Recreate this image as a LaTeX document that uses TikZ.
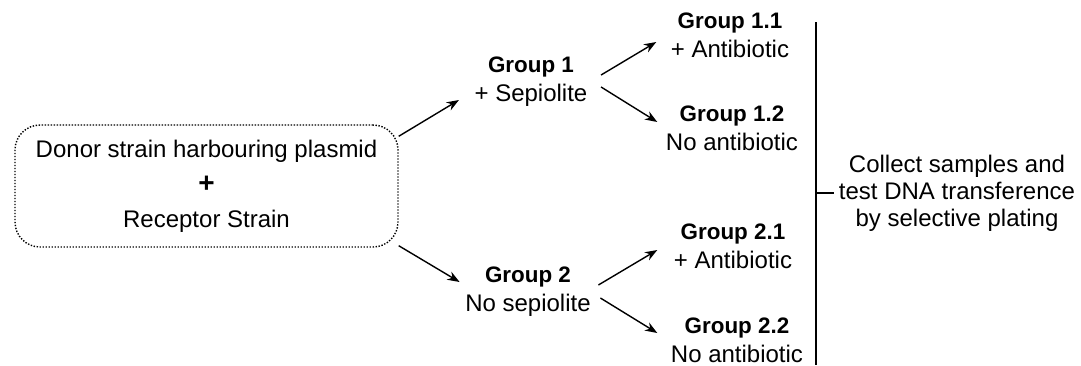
\documentclass[tikz,border=0pt]{standalone}
\usepackage{fontspec}
\setmainfont{Liberation Sans}
\usetikzlibrary{arrows.meta}

\tikzset{
grp/.style={align=center, inner sep=0pt, font=\fontsize{12}{14.5}\selectfont},
mixbox/.style={draw, rectangle, rounded corners=12.5pt, dash pattern=on .7pt off .8pt,
  minimum width=191.5pt, minimum height=61pt, align=center, font=\fontsize{12}{17.5}\selectfont}
}
\newcommand{\gname}[1]{{\fontsize{11.2}{14.5}\selectfont\bfseries #1}}

\begin{document}
\begin{tikzpicture}[>=Stealth,line width=.7pt,x=0.5pt,y=-0.5pt]
\useasboundingbox (0,0) rectangle (1081,365);

\node[mixbox] (mix) at (206.5,186) {Donor strain harbouring plasmid\\{\fontsize{14}{17.5}\selectfont\bfseries +}\\Receptor Strain};

\node[grp] (g1) at (531,82) {\gname{Group 1}\\+ Sepiolite};
\node[grp] (g2) at (528,292) {\gname{Group 2}\\No sepiolite};

\node[grp] (g11) at (730,35) {\gname{Group 1.1}\\+ Antibiotic};
\node[grp] (g12) at (732,128) {\gname{Group 1.2}\\No antibiotic};
\node[grp] (g21) at (733,246) {\gname{Group 2.1}\\+ Antibiotic};
\node[grp] (g22) at (737,340) {\gname{Group 2.2}\\No antibiotic};

\node[grp, inner sep=2pt, font=\fontsize{12}{13.5}\selectfont] (collect) at (957,193)
  {Collect samples and\\test DNA transference\\by selective plating};

\draw[->] ([yshift=-6pt]mix.north east) -- ([xshift=-7.5pt,yshift=-9pt]g1.west);
\draw[->] ([yshift=1pt]mix.south east) -- ([xshift=-2.5pt,yshift=5pt]g2.west);

\draw[->] ([xshift=6.5pt,yshift=3.5pt]g1.east) -- ([xshift=-7pt,yshift=-3.5pt]g11.west);
\draw[->] ([xshift=6.5pt,yshift=-2.5pt]g1.east) -- ([xshift=-4pt,yshift=3pt]g12.west);
\draw[->] ([xshift=3.5pt,yshift=3.5pt]g2.east) -- ([xshift=-8pt,yshift=-2pt]g21.west);
\draw[->] ([xshift=4.5pt,yshift=-3pt]g2.east) -- ([xshift=-6.5pt,yshift=3.5pt]g22.west);

% bracket
\coordinate (bartop) at (816,22);
\coordinate (barbot) at (816,365);
\draw (bartop) -- (barbot);
\draw (bartop |- collect.west) -- (collect.west);

\end{tikzpicture}
\end{document}
